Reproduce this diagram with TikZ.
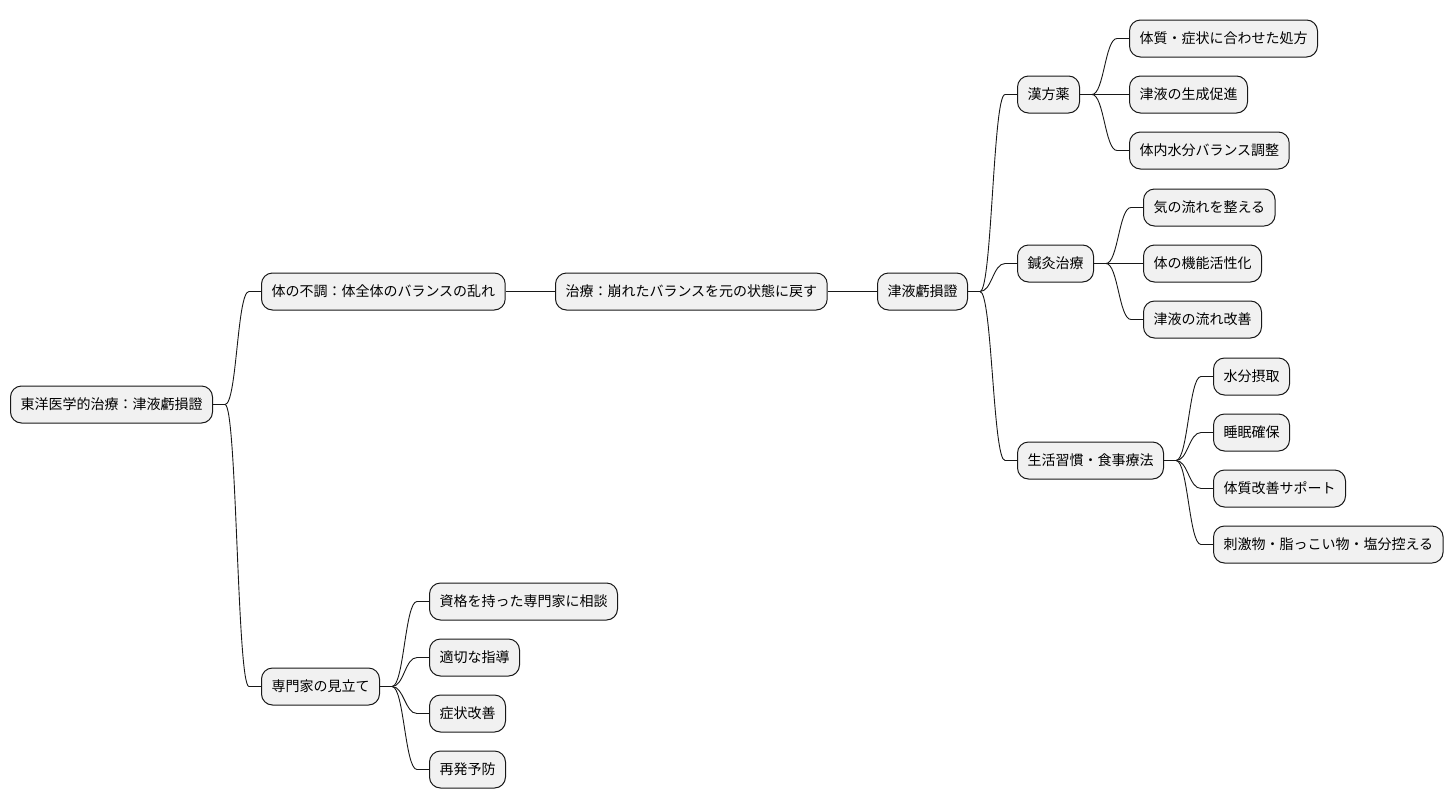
\documentclass[tikz,border=0pt]{standalone}
\usepackage{fontspec}
\newfontfamily\cjk{Noto Sans CJK JP}
\usetikzlibrary{calc}
\definecolor{mmfill}{HTML}{F1F1F1}
\definecolor{mmline}{HTML}{181818}
\tikzset{
  mm/.style={draw=mmline, fill=mmfill, rounded corners=11pt, minimum height=37pt,
    inner xsep=10pt, inner ysep=0pt, line width=1pt, anchor=west,
    font=\cjk\fontsize{14}{16}\selectfont, text=black},
  conn/.style={draw=mmline, line width=0.9pt}
}
\newcommand{\mmlink}[2]{%
  \draw[conn] (#1.east) -- ++(12,0) .. controls +(12,0) and ($(#2.west)+(-24,0)$) .. ($(#2.west)+(-12,0)$) -- (#2.west);}
\begin{document}
\begin{tikzpicture}[x=1pt,y=-1pt]
\useasboundingbox (0,0) rectangle (1454,809);
\node[mm] (root) at (10,404.5) {東洋医学的治療：津液虧損證};
\node[mm] (a) at (261,291.5) {体の不調：体全体のバランスの乱れ};
\node[mm] (b) at (555,291.5) {治療：崩れたバランスを元の状態に戻す};
\node[mm] (c) at (877,291.5) {津液虧損證};
\node[mm] (k) at (1017,94.5) {漢方薬};
\node[mm] (k1) at (1129,38.5) {体質・症状に合わせた処方};
\node[mm] (k2) at (1129,94.5) {津液の生成促進};
\node[mm] (k3) at (1129,150.5) {体内水分バランス調整};
\node[mm] (s) at (1017,263.5) {鍼灸治療};
\node[mm] (s1) at (1143,207.5) {気の流れを整える};
\node[mm] (s2) at (1143,263.5) {体の機能活性化};
\node[mm] (s3) at (1143,319.5) {津液の流れ改善};
\node[mm] (l) at (1017,460.5) {生活習慣・食事療法};
\node[mm] (l1) at (1213,376.5) {水分摂取};
\node[mm] (l2) at (1213,432.5) {睡眠確保};
\node[mm] (l3) at (1213,488.5) {体質改善サポート};
\node[mm] (l4) at (1213,544.5) {刺激物・脂っこい物・塩分控える};
\node[mm] (e) at (261,686.5) {専門家の見立て};
\node[mm] (e1) at (429,601.5) {資格を持った専門家に相談};
\node[mm] (e2) at (429,657.5) {適切な指導};
\node[mm] (e3) at (429,713.5) {症状改善};
\node[mm] (e4) at (429,769.5) {再発予防};
\mmlink{root}{a}
\mmlink{root}{e}
\draw[conn] (a.east) -- (b.west);
\draw[conn] (b.east) -- (c.west);
\mmlink{c}{k}
\mmlink{c}{s}
\mmlink{c}{l}
\mmlink{k}{k1}
\draw[conn] (k.east) -- (k2.west);
\mmlink{k}{k3}
\mmlink{s}{s1}
\draw[conn] (s.east) -- (s2.west);
\mmlink{s}{s3}
\mmlink{l}{l1}
\mmlink{l}{l2}
\mmlink{l}{l3}
\mmlink{l}{l4}
\mmlink{e}{e1}
\mmlink{e}{e2}
\mmlink{e}{e3}
\mmlink{e}{e4}
\end{tikzpicture}
\end{document}
